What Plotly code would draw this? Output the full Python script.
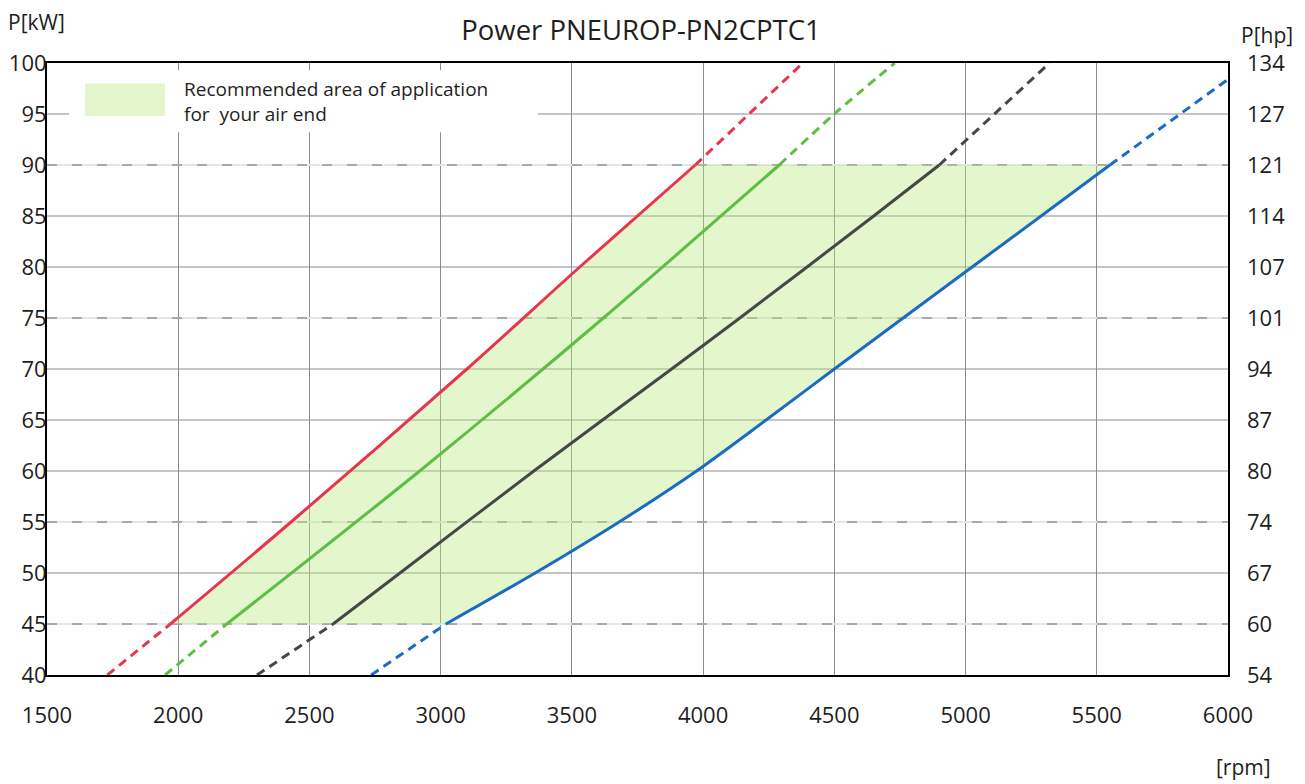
import plotly.graph_objects as go

# ---------------- data ----------------
kw_ticks = [40, 45, 50, 55, 60, 65, 70, 75, 80, 85, 90, 95, 100]
hp_labels = ["54", "60", "67", "74", "80", "87", "94", "101", "107", "114", "121", "127", "134"]
rpm_ticks = [1500, 2000, 2500, 3000, 3500, 4000, 4500, 5000, 5500, 6000]

# red curve
red_low_rpm = [1730, 1970]
red_low_kw = [40, 45]
red_rpm = [1970, 2430, 3100, 3530, 3970]
red_kw = [45, 55, 70, 80, 90]
red_high_rpm = [3970, 4380]
red_high_kw = [90, 100]

# green curve
green_low_rpm = [1950, 2185]
green_low_kw = [40, 45]
green_rpm = [2185, 2920, 3620, 4290]
green_kw = [45, 60, 75, 90]
green_high_rpm = [4290, 4500, 4730]
green_high_kw = [90, 95, 100]

# black curve
black_low_rpm = [2300, 2590]
black_low_kw = [40, 45]
black_rpm = [2590, 2845, 3355, 3880, 4140, 4650, 4900]
black_kw = [45, 50, 60, 70, 75, 85, 90]
black_high_rpm = [4900, 5320]
black_high_kw = [90, 100]

# blue curve
blue_low_rpm = [2735, 3020]
blue_low_kw = [40, 45]
blue_rpm = [3020, 3360, 3680, 3975, 4240, 4500, 5025, 5550]
blue_kw = [45, 50, 55, 60, 65, 70, 80, 90]
blue_high_rpm = [5550, 6000]
blue_high_kw = [90, 98.4]

solid_grid_kw = [50, 60, 65, 70, 80, 85, 95]
dashed_grid_kw = [45, 55, 75, 90]

title_text = "Power PNEUROP-PN2CPTC1"
legend_text = "Recommended area of application<br>for\u00a0 your air end"

# ---------------- styles ----------------
FONT = "Open Sans"
TXT = "#1e1e1e"
RED = "#e8344f"
GREEN = "#5cbf43"
BLACK = "#474747"
BLUE = "#1b6cc0"
FILL = "rgba(185,232,120,0.38)"
GRID = "#8c8c8c"
LW = 3
DASH = "9px,6px"

fig = go.Figure()

# recommended area: between red and blue solid segments
area_x = red_rpm + [blue_rpm[-1]] + blue_rpm[::-1]
area_y = red_kw + [blue_kw[-1]] + blue_kw[::-1]
fig.add_trace(go.Scatter(x=area_x, y=area_y, fill="toself", fillcolor=FILL,
                         line=dict(width=0), mode="lines", hoverinfo="skip",
                         showlegend=False))

curves = [
    (RED, red_low_rpm, red_low_kw, red_rpm, red_kw, red_high_rpm, red_high_kw),
    (GREEN, green_low_rpm, green_low_kw, green_rpm, green_kw, green_high_rpm, green_high_kw),
    (BLACK, black_low_rpm, black_low_kw, black_rpm, black_kw, black_high_rpm, black_high_kw),
    (BLUE, blue_low_rpm, blue_low_kw, blue_rpm, blue_kw, blue_high_rpm, blue_high_kw),
]
for col, lx, ly, sx, sy, hx, hy in curves:
    fig.add_trace(go.Scatter(x=lx, y=ly, mode="lines", showlegend=False,
                             line=dict(color=col, width=LW, dash=DASH)))
    fig.add_trace(go.Scatter(x=sx, y=sy, mode="lines", showlegend=False,
                             line=dict(color=col, width=LW, shape="spline", smoothing=0.8)))
    fig.add_trace(go.Scatter(x=hx, y=hy, mode="lines", showlegend=False,
                             line=dict(color=col, width=LW, dash=DASH, shape="spline",
                                       smoothing=0.8)))

# dummy trace for the right axis
fig.add_trace(go.Scatter(x=[rpm_ticks[0]], y=[kw_ticks[0]], yaxis="y2",
                         mode="markers", marker=dict(opacity=0),
                         hoverinfo="skip", showlegend=False))

shapes = []
for v in solid_grid_kw:
    shapes.append(dict(type="line", xref="x", yref="y", x0=1500, x1=6000, y0=v, y1=v,
                       line=dict(color=GRID, width=1.2), layer="between"))
for v in dashed_grid_kw:
    shapes.append(dict(type="line", xref="x", yref="y", x0=1500, x1=6000, y0=v, y1=v,
                       line=dict(color="#e6e6e6", width=2), layer="between"))
    shapes.append(dict(type="line", xref="x", yref="y", x0=1500, x1=6000, y0=v, y1=v,
                       line=dict(color="#959595", width=1.5, dash="10px,15px"), layer="between"))
# white box behind legend
shapes.append(dict(type="rect", xref="x", yref="y", x0=1585, x1=3370, y0=93.2, y1=99.3,
                   fillcolor="white", line=dict(width=0), layer="between"))
# legend swatch
shapes.append(dict(type="rect", xref="x", yref="y", x0=1645, x1=1950, y0=94.8, y1=98.0,
                   fillcolor="#e5f6cd", line=dict(width=0), layer="above"))

annotations = [
    dict(text=legend_text, xref="x", yref="y", x=2015, y=96.2, xanchor="left",
         yanchor="middle", align="left", showarrow=False,
         font=dict(family=FONT, size=19, color=TXT)),
    dict(text="P[kW]", xref="paper", yref="paper", x=-0.035, y=1.067, xanchor="left",
         yanchor="middle", showarrow=False, font=dict(family=FONT, size=21, color=TXT)),
    dict(text="P[hp]", xref="paper", yref="paper", x=1.009, y=1.046, xanchor="left",
         yanchor="middle", showarrow=False, font=dict(family=FONT, size=21, color=TXT)),
    dict(text="[rpm]", xref="paper", yref="paper", x=0.988, y=-0.150, xanchor="left",
         yanchor="middle", showarrow=False, font=dict(family=FONT, size=21, color=TXT)),
]

fig.update_layout(
    width=1305, height=784,
    margin=dict(l=47, r=77, t=63, b=109, autoexpand=False),
    paper_bgcolor="white", plot_bgcolor="white",
    title=dict(text=title_text, x=0.503, xref="paper", xanchor="center",
               y=1 - 30 / 784, yref="container", yanchor="middle",
               font=dict(family=FONT, size=27.5, color=TXT)),
    font=dict(family=FONT, size=22, color=TXT),
    xaxis=dict(range=[1500, 6000], tickvals=rpm_ticks, showgrid=True, gridcolor=GRID,
               gridwidth=1.2, zeroline=False, showline=True, linecolor="black",
               linewidth=2, mirror=True, ticks="", ticklabelstandoff=20, automargin=False,
               tickfont=dict(family=FONT, size=22, color=TXT)),
    yaxis=dict(range=[40, 100], tickvals=kw_ticks, showgrid=False, zeroline=False,
               showline=True, linecolor="black", linewidth=2, mirror=True, ticks="",
               ticklabelstandoff=-6, automargin=False,
               tickfont=dict(family=FONT, size=22, color=TXT)),
    yaxis2=dict(range=[40, 100], tickvals=kw_ticks, ticktext=hp_labels, overlaying="y",
                side="right", showgrid=False, zeroline=False, showline=False, ticks="",
                ticklabelstandoff=18, automargin=False,
                tickfont=dict(family=FONT, size=22, color=TXT)),
    shapes=shapes,
    annotations=annotations,
)

fig.write_html("out.html", config={"displayModeBar": False},
               post_script="document.body.style.margin='0';document.body.style.overflow='hidden';")
